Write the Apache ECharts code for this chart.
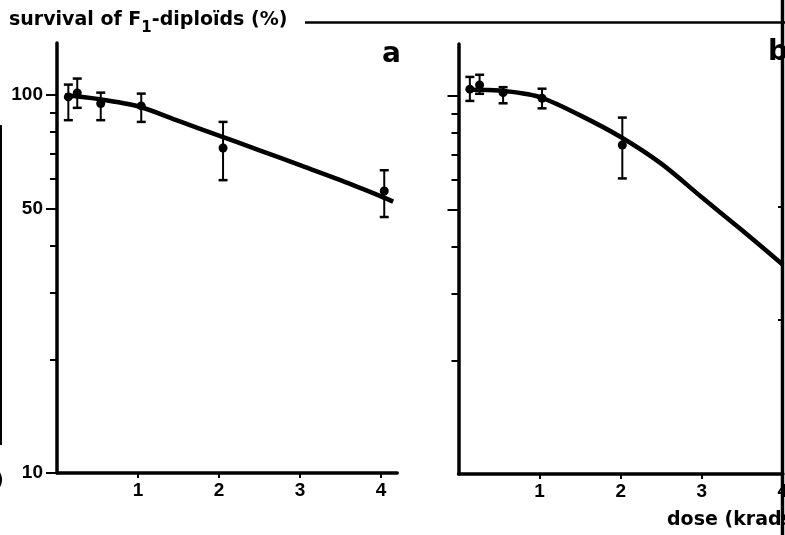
<!DOCTYPE html>
<html>
<head>
<meta charset="utf-8">
<script src="https://cdn.jsdelivr.net/npm/echarts@6/dist/echarts.min.js"></script>
<style>
html,body{margin:0;padding:0;background:#fff;}
#chart{width:785px;height:535px;}
</style>
</head>
<body>
<div id="chart"></div>
<script>
// ---------- data ----------
// panel a
var doseA      = [0.14, 0.25, 0.54, 1.04, 2.05, 4.04];
var survA      = [99.0, 101.4, 95.1, 93.7, 72.5, 55.8];
var survA_low  = [85.9, 92.6, 85.9, 85.0, 59.6, 47.6];
var survA_high = [106.7, 110.7, 101.6, 101.0, 85.0, 63.3];
var curveA_x   = [0.1, 0.5, 1.0, 1.5, 2.0, 2.5, 3.0, 3.5, 4.0, 4.15];
var curveA_y   = [100, 97.8, 93.5, 85.5, 78.2, 71.5, 65.3, 59.6, 54.0, 52.3];
// panel b
var doseB      = [0.14, 0.26, 0.55, 1.03, 2.02];
var survB      = [104.4, 107.1, 102.2, 98.8, 74.3];
var survB_low  = [97.2, 101.5, 95.8, 92.9, 60.6];
var survB_high = [112.5, 114.0, 105.7, 104.7, 87.8];
var curveB_x   = [0.15, 0.5, 1.0, 1.5, 2.0, 2.5, 3.0, 3.5, 4.0];
var curveB_y   = [104, 103.5, 99.5, 89, 78, 66.3, 54, 44.1, 35.8];
// axes
var xTicks        = [1, 2, 3, 4];
var yMinorTicks   = [20, 30, 40, 60, 70, 80, 90];
var yLabelTicksA  = [10, 50, 100];
var yLongTicksB   = [50, 100];
var yMin = 10, yMax = 137.5;
var xMinA = 0, xMaxA = 4.2;
var xMinB = 0, xMaxB = 4.0;
var titleMain = 'survival of F';
var titleSub = '1';
var titleRest = '-diploïds (%)';
var xTitle = 'dose (krads)';
var panelLabels = ['a', 'b'];

// ---------- build ----------
var L = Math.log10;
function pairs(xs, ys){ return xs.map(function(x,i){ return [x, L(ys[i])]; }); }
function errs(xs, lo, hi){ return xs.map(function(x,i){ return [x, L(lo[i]), L(hi[i])]; }); }

var numFont = 'Liberation Sans';
var txtFont = 'DejaVu Sans';

function xAxisCfg(gi, mn, mx){
  return {
    gridIndex: gi, type: 'value', min: mn, max: mx,
    axisLine: {show: true, lineStyle: {color: '#000', width: 3.5}},
    axisTick: {show: true, customValues: xTicks, length: 5, lineStyle: {color: '#000', width: 2}},
    axisLabel: {show: true, customValues: xTicks, margin: 8, color: '#000',
      fontSize: 19, fontWeight: 'bold', fontFamily: numFont},
    splitLine: {show: false}
  };
}
function yMainCfg(gi){
  return {
    gridIndex: gi, type: 'value', position: 'left', min: L(yMin), max: L(yMax),
    axisLine: {show: true, lineStyle: {color: '#000', width: 3.5}},
    axisTick: {show: true, customValues: yMinorTicks.map(L), length: 7, lineStyle: {color: '#000', width: 2}},
    axisLabel: {show: false},
    splitLine: {show: false}
  };
}
function yLabelCfg(gi, vals, showLabels){
  return {
    gridIndex: gi, type: 'value', position: 'left', min: L(yMin), max: L(yMax),
    axisLine: {show: false},
    axisTick: {show: true, customValues: vals.map(L), length: 11, lineStyle: {color: '#000', width: 2}},
    axisLabel: {show: showLabels, customValues: vals.map(L), margin: 14, color: '#000',
      fontSize: 19, fontWeight: 'bold', fontFamily: numFont,
      formatter: function(v){ return String(Math.round(Math.pow(10, v))); }},
    splitLine: {show: false}
  };
}

function errRender(params, api){
  var x = api.value(0), lo = api.value(1), hi = api.value(2);
  var pLo = api.coord([x, lo]), pHi = api.coord([x, hi]);
  var hw = 4.5;
  var st = {stroke: '#000', lineWidth: 2};
  var cs = {stroke: '#000', lineWidth: 2.5};
  return {type: 'group', children: [
    {type: 'line', shape: {x1: pLo[0], y1: pLo[1], x2: pHi[0], y2: pHi[1]}, style: st},
    {type: 'line', shape: {x1: pLo[0]-hw, y1: pLo[1], x2: pLo[0]+hw, y2: pLo[1]}, style: cs},
    {type: 'line', shape: {x1: pHi[0]-hw, y1: pHi[1], x2: pHi[0]+hw, y2: pHi[1]}, style: cs}
  ]};
}

var option = {
  animation: false,
  backgroundColor: '#fff',
  grid: [
    {left: 57, top: 43, width: 340.2, height: 430, outerBoundsMode: 'none', containLabel: false},
    {left: 458.5, top: 44, width: 324.4, height: 430, outerBoundsMode: 'none', containLabel: false}
  ],
  xAxis: [xAxisCfg(0, xMinA, xMaxA), xAxisCfg(1, xMinB, xMaxB)],
  yAxis: [yMainCfg(0), yLabelCfg(0, yLabelTicksA, true), yMainCfg(1), yLabelCfg(1, yLongTicksB, false)],
  series: [
    {type: 'line', xAxisIndex: 0, yAxisIndex: 0, data: pairs(curveA_x, curveA_y), smooth: 0.3,
      symbol: 'none', lineStyle: {color: '#000', width: 4.5}, z: 2},
    {type: 'custom', xAxisIndex: 0, yAxisIndex: 0, data: errs(doseA, survA_low, survA_high),
      renderItem: errRender, encode: {x: 0, y: [1, 2]}, z: 3},
    {type: 'scatter', xAxisIndex: 0, yAxisIndex: 0, data: pairs(doseA, survA), symbol: 'circle',
      symbolSize: 9, itemStyle: {color: '#000', opacity: 1}, z: 4},
    {type: 'line', xAxisIndex: 1, yAxisIndex: 2, data: pairs(curveB_x, curveB_y), smooth: 0.3,
      symbol: 'none', lineStyle: {color: '#000', width: 4.5}, z: 2},
    {type: 'custom', xAxisIndex: 1, yAxisIndex: 2, data: errs(doseB, survB_low, survB_high),
      renderItem: errRender, encode: {x: 0, y: [1, 2]}, z: 3},
    {type: 'scatter', xAxisIndex: 1, yAxisIndex: 2, data: pairs(doseB, survB), symbol: 'circle',
      symbolSize: 9, itemStyle: {color: '#000', opacity: 1}, z: 4}
  ],
  graphic: [
    {type: 'text', left: 9, top: 11, style: {
      text: '{a|' + titleMain + '}{s|' + titleSub + '}{a|' + titleRest + '}',
      rich: {
        a: {fontSize: 19, fontWeight: 'bold', fontFamily: txtFont, fill: '#000', lineHeight: 30, verticalAlign: 'middle'},
        s: {fontSize: 15, fontWeight: 'bold', fontFamily: txtFont, fill: '#000', lineHeight: 30, verticalAlign: 'bottom'}
      }}},
    {type: 'line', shape: {x1: 305, y1: 22.5, x2: 785, y2: 22.5}, style: {stroke: '#000', lineWidth: 2.5}},
    {type: 'text', left: 382, top: 41, style: {text: panelLabels[0], fontSize: 28, fontWeight: 'bold', fontFamily: txtFont, fill: '#000'}},
    {type: 'text', left: 768, top: 39, style: {text: panelLabels[1], fontSize: 28, fontWeight: 'bold', fontFamily: txtFont, fill: '#000'}},
    {type: 'text', left: 667, top: 511, style: {text: xTitle, fontSize: 19, fontWeight: 'bold', fontFamily: txtFont, fill: '#000'}},
    {type: 'line', shape: {x1: 782.5, y1: 0, x2: 782.5, y2: 535}, style: {stroke: '#000', lineWidth: 3.5}, z: 10},
    {type: 'line', shape: {x1: 778, y1: 207, x2: 782, y2: 207}, style: {stroke: '#000', lineWidth: 2}, z: 10},
    {type: 'line', shape: {x1: 778, y1: 320, x2: 782, y2: 320}, style: {stroke: '#000', lineWidth: 2}, z: 10},
    {type: 'line', shape: {x1: 1, y1: 125, x2: 1, y2: 445}, style: {stroke: '#000', lineWidth: 2}},
    {type: 'text', left: -5, top: 472, style: {text: ')', fontSize: 19, fontWeight: 'bold', fontFamily: txtFont, fill: '#000'}}
  ]
};

var chart = echarts.init(document.getElementById('chart'), null, {renderer: 'canvas'});
chart.setOption(option);
</script>
</body>
</html>
